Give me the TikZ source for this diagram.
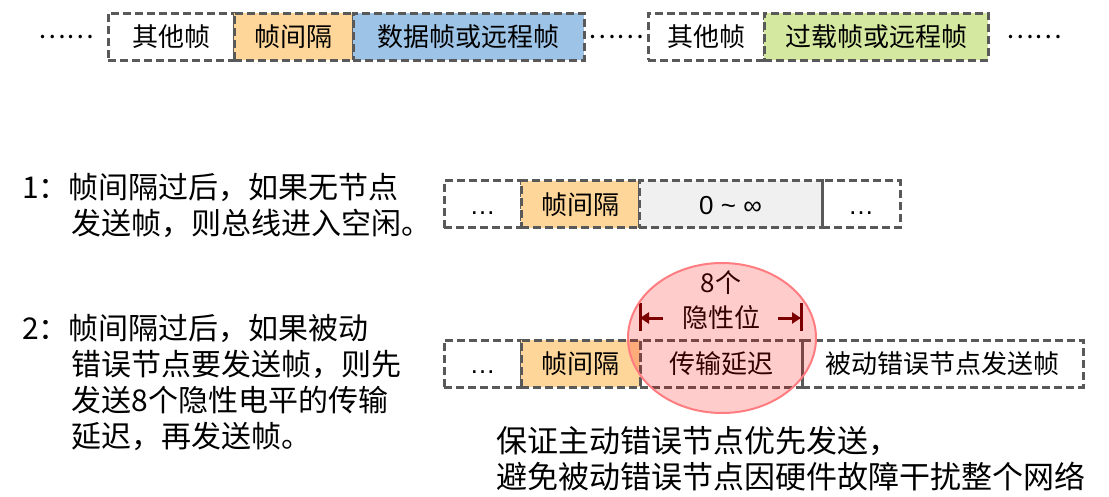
\documentclass[tikz,border=0pt]{standalone}
\usepackage{fontspec}
\setmainfont{Noto Sans CJK SC}
\newfontfamily\latinfont{Liberation Sans}
\usetikzlibrary{positioning,arrows.meta}
\definecolor{framegray}{HTML}{595959}
\definecolor{gaporange}{HTML}{FFD699}
\definecolor{datablue}{HTML}{9DC3E6}
\definecolor{loadgreen}{HTML}{D5E8A0}
\definecolor{idlegray}{HTML}{F0F0F0}
\definecolor{ringred}{HTML}{FF7C80}
\definecolor{dimred}{HTML}{5C0000}

\begin{document}
\begin{tikzpicture}[x=1pt, y=-1pt, every node/.style={font=\fontsize{26}{30}\selectfont, inner sep=0pt},
	fr/.style={draw=framegray, line width=3pt, dash pattern=on 8pt off 4pt, minimum height=47pt},
	note/.style={font=\fontsize{30}{36}\selectfont, align=left, anchor=west},
	dim/.style={dimred, line width=3pt}]
	\useasboundingbox (0,0) rectangle (1109,497);
	% top row: frame sequence
	\node (d1) at (66,37) {……};
	\node[fr, minimum width=126pt] (o1) at (171,37) {其他帧};
	\node[fr, fill=gaporange, minimum width=119pt] (g1) at (293.5,37) {帧间隔};
	\node[fr, fill=datablue, minimum width=231pt] (df) at (468.5,37) {数据帧或远程帧};
	\node (d2) at (616,37) {……};
	\node[fr, minimum width=116pt] (o2) at (706,37) {其他帧};
	\node[fr, fill=loadgreen, minimum width=224pt] (of) at (876,37) {过载帧或远程帧};
	\node (d3) at (1034,37) {……};
	% case 1
	\node[note] (n1) at (22,206) {1：帧间隔过后，如果无节点\\\hspace*{1.65em}发送帧，则总线进入空闲。};
	\node[fr, minimum width=77pt] (a1) at (482.5,204.5) {{\latinfont …}\vphantom{帧}};
	\node[fr, fill=gaporange, minimum width=118pt] (a2) at (580,204.5) {帧间隔};
	\node[fr, fill=idlegray, minimum width=183pt] (a3) at (730.5,204.5) {{\latinfont 0 \textasciitilde\ ∞}\vphantom{帧}};
	\node[fr, minimum width=78pt] (a4) at (861,204.5) {{\latinfont …}\vphantom{帧}};
	% case 2
	\node[note] (n2) at (22,383) {2：帧间隔过后，如果被动\\\hspace*{1.65em}错误节点要发送帧，则先\\\hspace*{1.65em}发送8个隐性电平的传输\\\hspace*{1.65em}延迟，再发送帧。};
	\node[fr, minimum width=77pt] (b1) at (482.5,363.5) {{\latinfont …}\vphantom{帧}};
	\node[fr, fill=gaporange, minimum width=119pt] (b2) at (580.5,363.5) {帧间隔};
	\node[fr, minimum width=162pt] (b3) at (721,363.5) {传输延迟};
	\node[fr, minimum width=281pt] (b4) at (942.5,363.5) {被动错误节点发送帧};
	% 8 recessive bits
	\node (cnt) at (721,283) {8个};
	\node (bit) at (721,318) {隐性位};
	\coordinate (lt) at (640,303);
	\coordinate (lb) at (640,331);
	\coordinate (rt) at (801,303);
	\coordinate (rb) at (801,331);
	\coordinate (la) at (663,318);
	\coordinate (ra) at (778,318);
	\draw[dim] (lt) -- (lb);
	\draw[dim] (rt) -- (rb);
	\draw[dim, -{Triangle[length=9pt,width=11pt]}] (la) -- (lb |- la);
	\draw[dim, -{Triangle[length=9pt,width=11pt]}] (ra) -- (rb |- ra);
	\fill[red, fill opacity=0.2] (722,338) ellipse [x radius=94pt, y radius=75pt];
	\draw[ringred, line width=2pt] (722,338) ellipse [x radius=94pt, y radius=75pt];
	\node[note, font=\fontsize{31}{36}\selectfont] (res) at (496,459) {保证主动错误节点优先发送，\\避免被动错误节点因硬件故障干扰整个网络};
\end{tikzpicture}
\end{document}
